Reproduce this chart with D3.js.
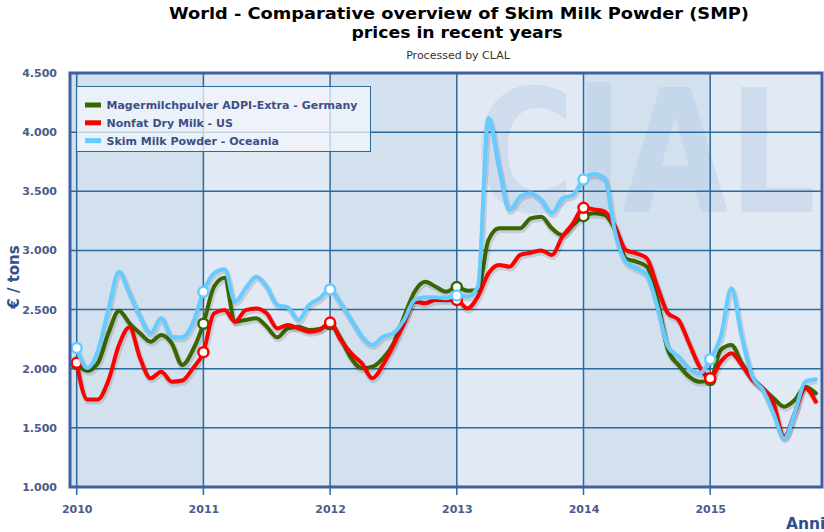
<!DOCTYPE html>
<html>
<head>
<meta charset="utf-8">
<script src="https://cdn.jsdelivr.net/npm/d3@7"></script>
<style>
  body { margin: 0; background: #fff; }
  svg { display: block; }
  text { font-family: "DejaVu Sans", Verdana, sans-serif; }
</style>
</head>
<body>
<svg id="chart" width="824" height="532"></svg>
<script>
// Plot frame (pixel box of the plotting area)
const plot = { left: 70, right: 822, top: 73, bottom: 487 };

// Year ticks and alternating bands
const years = [2010, 2011, 2012, 2013, 2014, 2015];
const yTicks = [1000, 1500, 2000, 2500, 3000, 3500, 4000, 4500];

// Series names
const seriesNames = [
  "Magermilchpulver ADPI-Extra - Germany",
  "Nonfat Dry Milk - US",
  "Skim Milk Powder - Oceania"
];
const seriesColors = ["#3a6600", "#ff0000", "#66ccff"];

// Monthly prices (EUR/ton), Jan 2010 .. Nov 2015
const germany = [
  2040, 1983, 2046, 2299, 2491, 2384, 2299, 2228, 2285, 2215, 2031, 2158,
  2380, 2693, 2770, 2398, 2412, 2426, 2355, 2265, 2341, 2355, 2327, 2335,
  2375, 2257, 2088, 2003, 2017, 2088, 2215, 2440, 2651, 2736, 2693, 2651,
  2690, 2660, 2665, 3088, 3187, 3187, 3187, 3271, 3285, 3187, 3130, 3215,
  3290, 3314, 3300, 3172, 2933, 2905, 2863, 2581, 2158, 2031, 1933, 1890,
  1904, 2158, 2200, 2046, 1919, 1834, 1750, 1679, 1735, 1848, 1792
];
const us = [
  2050, 1740, 1740, 1900, 2200, 2350, 2090, 1919, 1975, 1890, 1900, 2003,
  2140, 2468, 2496, 2398, 2496, 2510, 2468, 2341, 2370, 2341, 2313, 2327,
  2390, 2243, 2130, 2046, 1919, 2031, 2200, 2384, 2567, 2553, 2581, 2581,
  2580, 2510, 2609, 2806, 2877, 2863, 2962, 2981, 3000, 2962, 3116, 3229,
  3360, 3347, 3328, 3201, 3004, 2975, 2933, 2693, 2468, 2412, 2215, 2017,
  1920, 2059, 2130, 2031, 1904, 1834, 1707, 1425, 1625, 1834, 1721
];
const oceania = [
  2175, 2006, 2150, 2500, 2820, 2640, 2440, 2302, 2428, 2270, 2265, 2385,
  2650, 2806, 2840, 2567, 2680, 2778, 2693, 2539, 2519, 2412, 2539, 2595,
  2670, 2553, 2412, 2271, 2200, 2271, 2300, 2412, 2581, 2604, 2604, 2595,
  2620, 2610, 2693, 4120, 3708, 3342, 3454, 3483, 3426, 3314, 3440, 3469,
  3600, 3646, 3610, 3150, 2905, 2849, 2792, 2524, 2186, 2102, 2003, 1961,
  2080, 2271, 2680, 2271, 1933, 1820, 1623, 1412, 1625, 1890, 1910
];
const seriesValues = [germany, us, oceania];

// Month positions as fractional years
const monthTimes = d3.range(germany.length).map(i => 2010 + i / 12);

// Scales
const x = d3.scaleLinear().domain([2010, 2015]).range([76.7, 710.2]);
const y = d3.scaleLinear().domain([1000, 4500]).range([plot.bottom, plot.top]);

const euro = d3.formatLocale({ decimal: ",", thousands: ".", grouping: [3], currency: ["€", ""] });
const fmt = euro.format(",d");

const svg = d3.select("#chart");

// Title
const title = svg.append("g").attr("text-anchor", "middle").attr("fill", "#000");
title.append("text").attr("x", 459).attr("y", 19)
  .attr("textLength", 580).attr("lengthAdjust", "spacingAndGlyphs")
  .style("font-size", "16.5px").style("font-weight", "bold")
  .text("World - Comparative overview of Skim Milk Powder (SMP)");
title.append("text").attr("x", 457).attr("y", 38)
  .attr("textLength", 211).attr("lengthAdjust", "spacingAndGlyphs")
  .style("font-size", "16.5px").style("font-weight", "bold")
  .text("prices in recent years");
title.append("text").attr("x", 458).attr("y", 59)
  .style("font-size", "11px").attr("fill", "#333")
  .text("Processed by CLAL");

// Clip for plot
svg.append("defs").append("clipPath").attr("id", "clip")
  .append("rect")
  .attr("x", plot.left).attr("y", plot.top)
  .attr("width", plot.right - plot.left).attr("height", plot.bottom - plot.top);

// Background and bands
const bg = svg.append("g");
bg.append("rect")
  .attr("x", plot.left).attr("y", plot.top)
  .attr("width", plot.right - plot.left).attr("height", plot.bottom - plot.top)
  .attr("fill", "#e1e9f4");
bg.selectAll("rect.band")
  .data([2009, 2010, 2012, 2014])
  .enter().append("rect")
  .attr("class", "band")
  .attr("x", d => Math.max(plot.left, x(d)))
  .attr("width", d => x(d + 1) - Math.max(plot.left, x(d)))
  .attr("y", plot.top)
  .attr("height", plot.bottom - plot.top)
  .attr("fill", "#d3e1ee");

// Watermark
bg.append("text")
  .attr("x", 474).attr("y", 212)
  .attr("textLength", 342).attr("lengthAdjust", "spacingAndGlyphs")
  .style("font-size", "172px").style("font-weight", "bold")
  .attr("fill", "#a9c2e3").attr("fill-opacity", 0.33)
  .text("ClAL");

// Grid lines
const grid = svg.append("g").attr("stroke", "#2a6b9e").attr("stroke-width", 1.5);
grid.selectAll("line.h")
  .data(yTicks.slice(1, -1))
  .enter().append("line")
  .attr("x1", plot.left).attr("x2", plot.right)
  .attr("y1", d => y(d)).attr("y2", d => y(d));
grid.selectAll("line.v")
  .data(years)
  .enter().append("line")
  .attr("x1", d => x(d)).attr("x2", d => x(d))
  .attr("y1", plot.top).attr("y2", plot.bottom + 8);

// Legend box
const legend = svg.append("g");
legend.append("rect")
  .attr("x", 76.5).attr("y", 86.5).attr("width", 294).attr("height", 65)
  .attr("fill", "#f3f6fb").attr("fill-opacity", 0.75)
  .attr("stroke", "#2a6b9e").attr("stroke-width", 1);
seriesNames.forEach((name, i) => {
  const ly = 105 + i * 17.8;
  legend.append("rect")
    .attr("x", 85).attr("y", ly - 2.5).attr("width", 16).attr("height", 5)
    .attr("fill", seriesColors[i]);
  legend.append("text")
    .attr("x", 106.5).attr("y", ly + 4)
    .style("font-size", "11px").style("font-weight", "bold")
    .attr("fill", "#3b4f85")
    .text(name);
});

// Lines
const line = d3.line()
  .x((d, i) => x(monthTimes[i]))
  .y(d => y(d))
  .curve(d3.curveMonotoneX);

const lines = svg.append("g").attr("clip-path", "url(#clip)");
seriesValues.forEach((vals, i) => {
  const g = lines.append("g");
  g.append("path")
    .datum(vals)
    .attr("d", line)
    .attr("fill", "none")
    .attr("stroke", "rgba(0,0,0,0.12)")
    .attr("stroke-width", 6)
    .attr("transform", "translate(1,2)")
    .attr("stroke-linejoin", "round");
  g.append("path")
    .datum(vals)
    .attr("d", line)
    .attr("fill", "none")
    .attr("stroke", seriesColors[i])
    .attr("stroke-width", 4)
    .attr("stroke-linejoin", "round")
    .attr("stroke-linecap", "round");
  g.selectAll("circle")
    .data(years.map(yr => ({ t: yr, v: vals[(yr - 2010) * 12] })))
    .enter().append("circle")
    .attr("cx", d => x(d.t))
    .attr("cy", d => y(d.v))
    .attr("r", 5)
    .attr("fill", "#fff")
    .attr("stroke", seriesColors[i])
    .attr("stroke-width", 2.5);
});

// Frame
svg.append("rect")
  .attr("x", plot.left).attr("y", plot.top)
  .attr("width", plot.right - plot.left).attr("height", plot.bottom - plot.top)
  .attr("fill", "none").attr("stroke", "#3f5f9f").attr("stroke-width", 3);

// Y axis
const yAxis = svg.append("g")
  .attr("transform", `translate(${plot.left - 10},0)`)
  .call(d3.axisLeft(y).tickValues(yTicks).tickFormat(fmt).tickSize(0));
yAxis.select(".domain").remove();
yAxis.selectAll("text")
  .style("font-size", "11px").style("font-weight", "bold")
  .attr("fill", "#4a5b8c")
  .style("font-family", "\"DejaVu Sans\", Verdana, sans-serif");

// X axis
const xAxis = svg.append("g")
  .attr("transform", `translate(0,${plot.bottom + 15})`)
  .call(d3.axisBottom(x).tickValues(years).tickFormat(d3.format("d")).tickSize(0));
xAxis.select(".domain").remove();
xAxis.selectAll("text")
  .style("font-size", "11px").style("font-weight", "bold")
  .attr("fill", "#4a5b8c")
  .style("font-family", "\"DejaVu Sans\", Verdana, sans-serif");

// Axis titles
svg.append("text")
  .attr("transform", "translate(19,277) rotate(-90)")
  .attr("text-anchor", "middle")
  .style("font-size", "15px").style("font-weight", "bold")
  .attr("fill", "#34508a")
  .text("€  / tons");
svg.append("text")
  .attr("x", 786).attr("y", 529)
  .style("font-size", "15.5px").style("font-weight", "bold")
  .attr("fill", "#2f4f8f")
  .text("Anni");
</script>
</body>
</html>
